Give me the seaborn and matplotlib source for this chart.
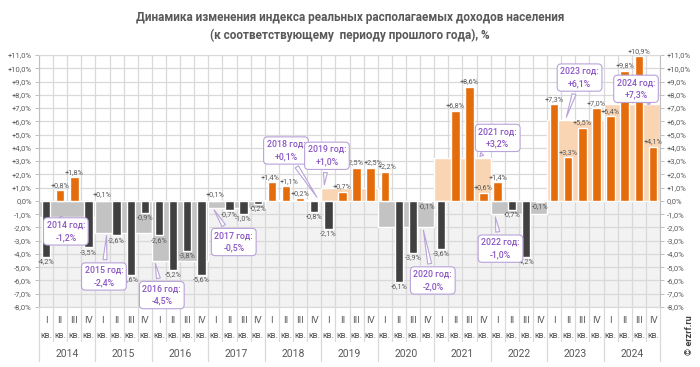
import numpy as np
import pandas as pd
import matplotlib
matplotlib.use("Agg")
import matplotlib.pyplot as plt
import seaborn as sns

# data
years = [2014, 2015, 2016, 2017, 2018, 2019, 2020, 2021, 2022, 2023, 2024]
year_vals = [-1.2, -2.4, -4.5, -0.5, 0.1, 1.0, -2.0, 3.2, -1.0, 6.1, 7.3]
quarter_names = ["I", "II", "III", "IV"]
quarter_vals = [
    -4.2, 0.8, 1.8, -3.5,
    0.1, -2.6, -5.6, -0.9,
    -2.6, -5.2, -3.8, -5.6,
    0.1, -0.7, -1.0, -0.2,
    1.4, 1.1, 0.2, -0.8,
    -2.1, 0.7, 2.5, 2.5,
    2.2, -6.1, -3.9, -0.1,
    -3.6, 6.8, 8.6, 0.6,
    1.4, -0.7, -4.2, -0.1,
    7.3, 3.3, 5.5, 7.0,
    6.4, 9.8, 10.9, 4.1,
]

# callout box / pointer placement (quarter index, %)
callout_box = [(1.4, -2.3), (4.1, -5.7), (8.2, -7.1), (13.3, -3.1), (17.0, 3.8), (19.9, 3.4),
               (27.4, -6.0), (32.0, 4.75), (32.2, -3.6), (37.8, 9.3), (41.8, 8.45)]
callout_tip = [(1.0, -1.2), (4.3, -2.4), (7.7, -4.5), (11.8, -0.5), (19.3, 0.1), (19.7, 1.0),
               (26.7, -2.0), (30.6, 3.2), (31.8, -1.0), (36.8, 6.1), (42.8, 7.3)]

ORANGE = "#e46c0a"
DARK = "#404040"
BAND_POS = "#f9d5b4"
BAND_NEG = "#c3c3c3"
GRID = "#d9d9d9"
TXT = "#595959"
PURPLE = "#8a55c4"
PURPLE_EDGE = "#b9a3d8"


def fmt(v):
    s = f"{abs(v):.1f}".replace(".", ",") + "%"
    if v > 0:
        return "+" + s
    if v < 0:
        return "-" + s
    return s


sns.set_theme(style="white")
plt.rcParams["font.family"] = ["Roboto", "DejaVu Sans"]

fig = plt.figure(figsize=(7, 3.67), dpi=100)
ax = fig.add_axes([39 / 700, 1 - 307 / 367, 621 / 700, 252 / 367])

n = len(quarter_vals)

# background: shaded below zero, grid
ax.axhspan(-8, 0, color="#f2f2f2", zorder=0)
ax.hlines(np.arange(-8, 12), -0.5, n - 0.5, color=GRID, lw=0.9, zorder=1)
ax.vlines(np.arange(-0.5, n), -8, 11, color=GRID, lw=0.9, zorder=1)

# annual bands
year_centers = [4 * k + 1.5 for k in range(len(years))]
ax.bar(year_centers, year_vals, width=4, zorder=2,
       color=[BAND_POS if v > 0 else BAND_NEG for v in year_vals])

# quarterly bars
df = pd.DataFrame({
    "pos": np.arange(n),
    "val": quarter_vals,
    "sign": ["pos" if v > 0 else "neg" for v in quarter_vals],
})
sns.barplot(data=df, x="pos", y="val", hue="sign", palette={"pos": ORANGE, "neg": DARK},
            native_scale=True, width=0.6, dodge=False, legend=False, saturation=1,
            ax=ax, zorder=3)

ax.set_xlim(-0.5, n - 0.5)
ax.set_ylim(-8, 11)

for i, v in enumerate(quarter_vals):
    dx = 0.0
    # neighbouring labels with close values get nudged apart a little
    if i > 0 and v > 0 and abs(quarter_vals[i - 1] - v) < 0.4:
        dx = 0.2
    elif i + 1 < n and v > 0 and abs(quarter_vals[i + 1] - v) < 0.4:
        dx = -0.15
    if v > 0:
        ax.text(i + dx, v + 0.1, fmt(v), ha="center", va="bottom", fontsize=5.2, color=TXT, zorder=5)
    else:
        ax.text(i + dx, v - 0.1, fmt(v), ha="center", va="top", fontsize=5.2, color=TXT, zorder=5)

# annual callouts
for k, y in enumerate(years):
    ax.annotate(f"{y} год:\n{fmt(year_vals[k])}", xy=callout_tip[k], xytext=callout_box[k],
                ha="center", va="center", fontsize=6.3, color=PURPLE, fontweight="medium",
                linespacing=1.45, zorder=6,
                bbox=dict(boxstyle="round,pad=0.35,rounding_size=0.45", fc="white", ec=PURPLE_EDGE, lw=0.8),
                arrowprops=dict(arrowstyle="wedge,tail_width=0.45,shrink_factor=0.5", fc="white",
                                ec=PURPLE_EDGE, lw=0.8))

# y axes on both sides
yt = np.arange(-8, 12)
ax.set_yticks(yt)
ax.set_yticklabels([fmt(float(v)) for v in yt])
ax.tick_params(axis="y", left=True, right=True, labelleft=True, labelright=True,
               length=3, width=0.7, color="#bfbfbf", labelsize=5.5, labelcolor=TXT, pad=2)
ax.set_xticks([])
ax.set_xlabel("")
ax.set_ylabel("")
for side in ["left", "right"]:
    ax.spines[side].set_color("#bfbfbf")
    ax.spines[side].set_linewidth(0.8)
for side in ["top", "bottom"]:
    ax.spines[side].set_color(GRID)
    ax.spines[side].set_linewidth(0.8)

# two-level x labels
tr = ax.get_xaxis_transform()
for i in range(n):
    ax.text(i, -0.052, quarter_names[i % 4], transform=tr, ha="center", va="center",
            fontsize=6.8, color=TXT, clip_on=False)
    ax.text(i, -0.112, "кв.", transform=tr, ha="center", va="center",
            fontsize=6.3, color=TXT, clip_on=False)
for b in np.arange(-0.5, n):
    low = -0.215 if (b + 0.5) % 4 == 0 else -0.135
    ax.plot([b, b], [0, low], transform=tr, color=GRID, lw=0.9, clip_on=False)
for k, y in enumerate(years):
    ax.text(year_centers[k], -0.187, str(y), transform=tr, ha="center", va="center",
            fontsize=7.5, color=TXT, clip_on=False)

fig.text(0.5, 1 - 18 / 367, "Динамика изменения индекса реальных располагаемых доходов населения",
         ha="center", va="center", fontsize=8.5, fontweight="bold", color=TXT)
fig.text(0.5, 1 - 35 / 367, "(к соответствующему  периоду прошлого года), %",
         ha="center", va="center", fontsize=8.5, fontweight="bold", color=TXT)
fig.text(690 / 700, 1 - 335 / 367, "© erzrf.ru", rotation=90, ha="center", va="center",
         fontsize=6.5, fontweight="bold", color="#404040")

fig.savefig("out.png", dpi=100)
